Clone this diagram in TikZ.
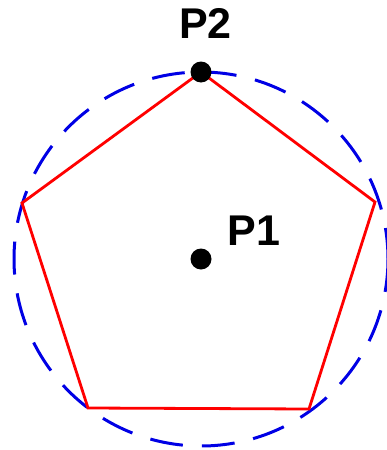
\documentclass[tikz,border=0pt]{standalone}
\usepackage{fontspec}
\setmainfont{Liberation Sans}
\begin{document}
\begin{tikzpicture}[x=1pt,y=-1pt,
  ring/.style={draw=blue!90!black,line width=3pt,dash pattern=on 33pt off 19pt},
  poly/.style={draw=red,line width=2.8pt,line join=miter},
  dotpt/.style={circle,fill=black,inner sep=0pt,minimum size=21pt},
  lab/.style={font=\fontsize{43}{43}\selectfont\bfseries,inner sep=0pt,text=black}]
\useasboundingbox (0,0) rectangle (386,450);
\coordinate (C) at (201,259);
\draw[ring] (C) circle[radius=187];
\coordinate (vT) at (201,72);
\coordinate (vL) at (22,203);
\coordinate (vR) at (375,202);
\coordinate (vBL) at (88,408);
\coordinate (vBR) at (309,409);
\draw[poly] (vT) -- (vR) -- (vBR) -- (vBL) -- (vL) -- cycle;
\node[dotpt] (p1) at (C) {};
\node[dotpt] (p2) at (vT) {};
\node[lab] (l2) at (205.5,23) {P2};
\node[lab] (l1) at (254,231) {P1};
\end{tikzpicture}
\end{document}
